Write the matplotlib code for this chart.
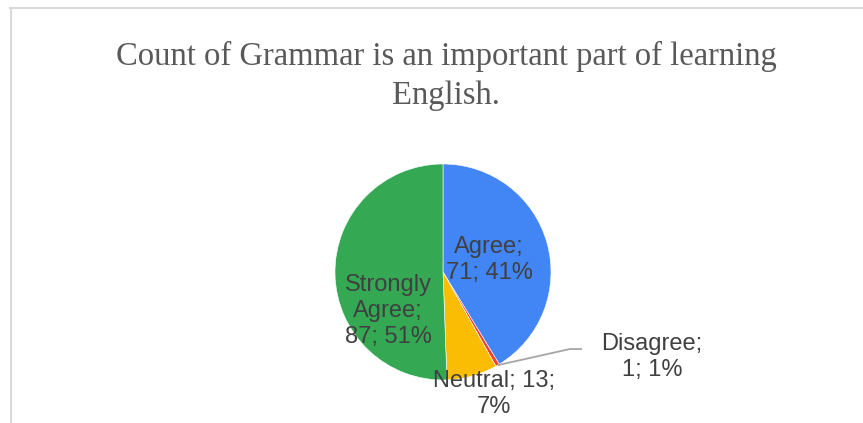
"""
Pie chart of survey answers to "Grammar is an important part of learning English."
"""

import matplotlib.pyplot as plt
import numpy as np
from matplotlib.lines import Line2D

categories = ["Agree", "Disagree", "Neutral", "Strongly Agree"]
counts = [71, 1, 13, 87]
percents = [41, 1, 7, 51]
colors = ["#4285F4", "#EA4335", "#FBBC04", "#34A853"]

title = "Count of Grammar is an important part of learning\nEnglish."

W, H = 863, 423
DPI = 100

# label text layouts (line breaks per slice)
label_texts = [
    f"{categories[0]};\n{counts[0]}; {percents[0]}%",
    f"{categories[1]};\n{counts[1]}; {percents[1]}%",
    f"{categories[2]}; {counts[2]};\n{percents[2]}%",
    "Strongly\nAgree;\n" + f"{counts[3]}; {percents[3]}%",
]

figure = plt.figure(figsize=(W / DPI, H / DPI), dpi=DPI)
figure.patch.set_facecolor("white")

# axes in pixel units, y pointing up
axis = figure.add_axes([0, 0, 1, 1])

center = (443, H - 272)
radius = 108

wedges, _ = axis.pie(
    counts,
    colors=colors,
    startangle=90,
    counterclock=False,
    center=center,
    radius=radius,
    frame=True,
    wedgeprops={"linewidth": 0.4, "edgecolor": "white"},
)
axis.set_xlim(0, W)
axis.set_ylim(0, H)
axis.set_aspect("equal")
axis.axis("off")

label_color = "#404040"
label_font = ["Liberation Sans", "DejaVu Sans"]

# label centres (pixels, y up)
label_positions = [
    (489, H - 260),
    (652, H - 357),
    (494, H - 394),
    (388, H - 311),
]

for text, (lx, ly) in zip(label_texts, label_positions):
    axis.text(
        lx, ly, text,
        ha="center", va="center", multialignment="center",
        fontsize=17, color=label_color, family=label_font,
        linespacing=1.25,
    )

# leader line for the small "Disagree" slice
disagree = wedges[1]
mid_angle = np.deg2rad((disagree.theta1 + disagree.theta2) / 2)
rim = (
    center[0] + radius * np.cos(mid_angle),
    center[1] + radius * np.sin(mid_angle),
)
axis.plot(
    [rim[0], 570, 582],
    [rim[1], H - 349, H - 349],
    color="#A6A6A6", linewidth=1.3, solid_capstyle="butt",
)

axis.text(
    446, H - 76, title,
    ha="center", va="center", multialignment="center",
    fontsize=23.5, color="#595959",
    family=["Liberation Serif", "DejaVu Serif"],
    linespacing=1.4,
)

# chart border (top and left edges)
border = "#D9D9D9"
figure.add_artist(Line2D([10 / W, 1], [1 - 8 / H, 1 - 8 / H], color=border, linewidth=1.5))
figure.add_artist(Line2D([11 / W, 11 / W], [0, 1 - 8 / H], color=border, linewidth=1.5))

figure.savefig("out.png", dpi=DPI)
plt.close(figure)
